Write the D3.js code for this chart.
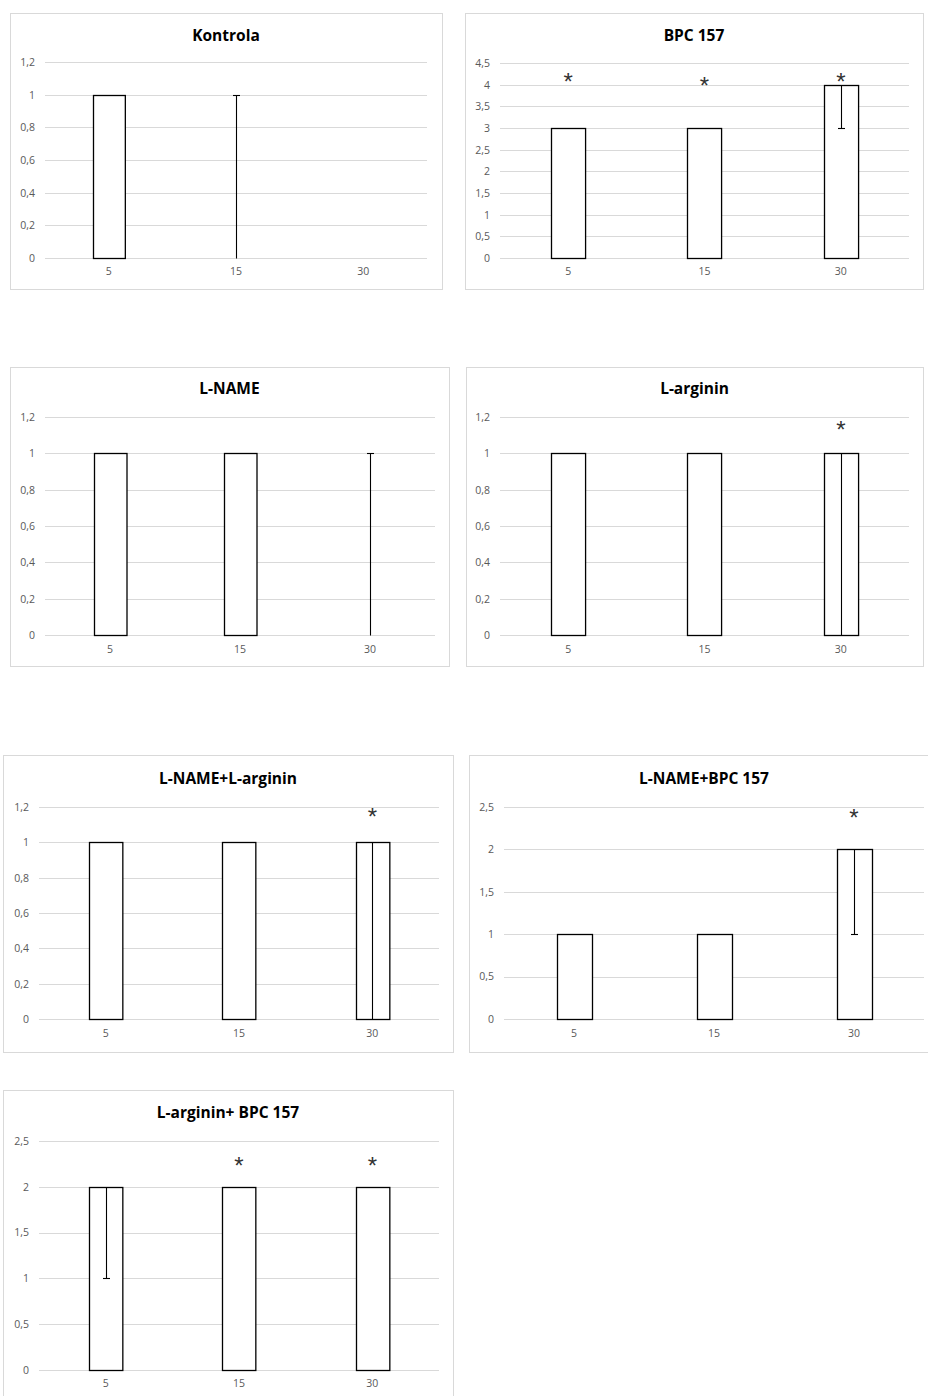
<!DOCTYPE html>
<html><head><meta charset="utf-8">
<script src="https://cdn.jsdelivr.net/npm/d3@7"></script>
<style>html,body{margin:0;padding:0;background:#fff;}svg{display:block;}</style>
</head><body>
<script>
// ---- data ----
const categories = ["5", "15", "30"];
const titles = ["Kontrola", "BPC 157", "L-NAME", "L-arginin", "L-NAME+L-arginin", "L-NAME+BPC 157", "L-arginin+ BPC 157"];
const values = [
  [1, 0, 0],
  [3, 3, 4],
  [1, 1, 0],
  [1, 1, 1],
  [1, 1, 1],
  [1, 1, 2],
  [2, 2, 2]
];
const errPlus = [
  [0, 1, 0],
  [0, 0, 0],
  [0, 0, 1],
  [0, 0, 0],
  [0, 0, 0],
  [0, 0, 0],
  [0, 0, 0]
];
const errMinus = [
  [0, 0, 0],
  [0, 0, 1],
  [0, 0, 0],
  [0, 0, 1],
  [0, 0, 1],
  [0, 0, 1],
  [1, 0, 0]
];
// y-value at which a significance asterisk is centred (null = none)
const stars = [
  [null, null, null],
  [4.18, 4.09, 4.18],
  [null, null, null],
  [null, null, 1.156],
  [null, null, 1.17],
  [null, null, 2.43],
  [null, 2.28, 2.28]
];
const yMax = [1.2, 4.5, 1.2, 1.2, 1.2, 2.5, 2.5];
const yStep = [0.2, 0.5, 0.2, 0.2, 0.2, 0.5, 0.5];

// ---- layout (positions only) ----
const layout = [
  {frame: [10, 13, 432, 276],  px: [45, 427],  py: [62, 258],    ty: 36,   xl: 273},
  {frame: [465, 13, 458, 276], px: [500, 909], py: [63, 258],    ty: 36,   xl: 273},
  {frame: [10, 367, 439, 299], px: [45, 435],  py: [417, 635],   ty: 389,  xl: 651},
  {frame: [466, 367, 457, 299],px: [500, 909], py: [417, 635],   ty: 389,  xl: 651},
  {frame: [3, 755, 450, 297],  px: [39, 439],  py: [807, 1019],  ty: 779,  xl: 1035},
  {frame: [469, 755, 470, 297],px: [504, 924], py: [807, 1019],  ty: 779,  xl: 1035},
  {frame: [3, 1090, 450, 320], px: [39, 439],  py: [1141, 1370], ty: 1113, xl: 1385}
];

const svg = d3.select("body").append("svg").attr("width", 928).attr("height", 1396);
const fmt = v => d3.format("~g")(+v.toFixed(2)).replace(".", ",");

titles.forEach((title, i) => {
  const L = layout[i];
  const g = svg.append("g");
  g.append("rect")
    .attr("x", L.frame[0] + 0.5).attr("y", L.frame[1] + 0.5)
    .attr("width", L.frame[2]).attr("height", L.frame[3])
    .attr("fill", "#fff").attr("stroke", "#d9d9d9").attr("stroke-width", 1);

  const x = d3.scaleBand().domain(categories).range(L.px).paddingInner(0.75).paddingOuter(0.375);
  const y = d3.scaleLinear().domain([0, yMax[i]]).range([L.py[1], L.py[0]]);
  const ticks = d3.range(0, yMax[i] + yStep[i] / 2, yStep[i]);

  // gridlines
  g.append("g").selectAll("line").data(ticks).join("line")
    .attr("x1", L.px[0]).attr("x2", L.px[1])
    .attr("y1", d => Math.round(y(d)) + 0.5).attr("y2", d => Math.round(y(d)) + 0.5)
    .attr("stroke", "#d9d9d9").attr("stroke-width", 1);

  // y axis labels
  const yAxis = d3.axisLeft(y).tickValues(ticks).tickSize(0).tickPadding(10).tickFormat(fmt);
  const ya = g.append("g").attr("transform", `translate(${L.px[0]},0)`).call(yAxis);
  ya.select(".domain").remove();
  ya.selectAll("text").attr("fill", "#595959").style("font-family", "'Open Sans', sans-serif").style("font-size", "10.5px");

  // x axis labels
  const xAxis = d3.axisBottom(x).tickSize(0).tickPadding(0);
  const xa = g.append("g").attr("transform", `translate(0,${L.xl - 5})`).call(xAxis);
  xa.select(".domain").remove();
  xa.selectAll("text").attr("fill", "#595959").style("font-family", "'Open Sans', sans-serif").style("font-size", "10.5px");

  // bars
  const data = categories.map((c, j) => ({c, v: values[i][j], ep: errPlus[i][j], em: errMinus[i][j], s: stars[i][j]}));
  g.append("g").selectAll("rect").data(data.filter(d => d.v > 0)).join("rect")
    .attr("x", d => Math.round(x(d.c)) + 0.5)
    .attr("y", d => Math.round(y(d.v)) + 0.5)
    .attr("width", x.bandwidth())
    .attr("height", d => Math.round(y(0)) - Math.round(y(d.v)))
    .attr("fill", "#fff").attr("stroke", "#000").attr("stroke-width", 1.3);

  // error bars
  const eb = g.append("g").attr("stroke", "#000").attr("stroke-width", 1.1);
  data.forEach(d => {
    const cx = Math.round(x(d.c) + x.bandwidth() / 2) + 0.5;
    if (d.ep > 0) {
      const yt = Math.round(y(d.v + d.ep)) + 0.5;
      eb.append("line").attr("x1", cx).attr("x2", cx).attr("y1", Math.round(y(d.v)) + 0.5).attr("y2", yt);
      eb.append("line").attr("x1", cx - 3.5).attr("x2", cx + 3.5).attr("y1", yt).attr("y2", yt);
    }
    if (d.em > 0) {
      const yb = Math.round(y(d.v - d.em)) + 0.5;
      eb.append("line").attr("x1", cx).attr("x2", cx).attr("y1", Math.round(y(d.v)) + 0.5).attr("y2", yb);
      if (d.v - d.em > 0) eb.append("line").attr("x1", cx - 3.5).attr("x2", cx + 3.5).attr("y1", yb).attr("y2", yb);
    }
  });

  // asterisks
  g.append("g").selectAll("text").data(data.filter(d => d.s != null)).join("text")
    .attr("x", d => x(d.c) + x.bandwidth() / 2)
    .attr("y", d => y(d.s) + 13)
    .attr("text-anchor", "middle")
    .attr("fill", "#333")
    .style("font-family", "'Liberation Sans', sans-serif").style("font-size", "24px")
    .text("*");

  // title
  g.append("text")
    .attr("x", L.frame[0] + L.frame[2] / 2).attr("y", L.ty)
    .attr("dy", "0.35em")
    .attr("text-anchor", "middle")
    .attr("fill", "#000")
    .style("font-family", "'Open Sans', sans-serif").style("font-weight", "bold").style("font-size", "15.5px")
    .text(title);
});
</script>
</body></html>
